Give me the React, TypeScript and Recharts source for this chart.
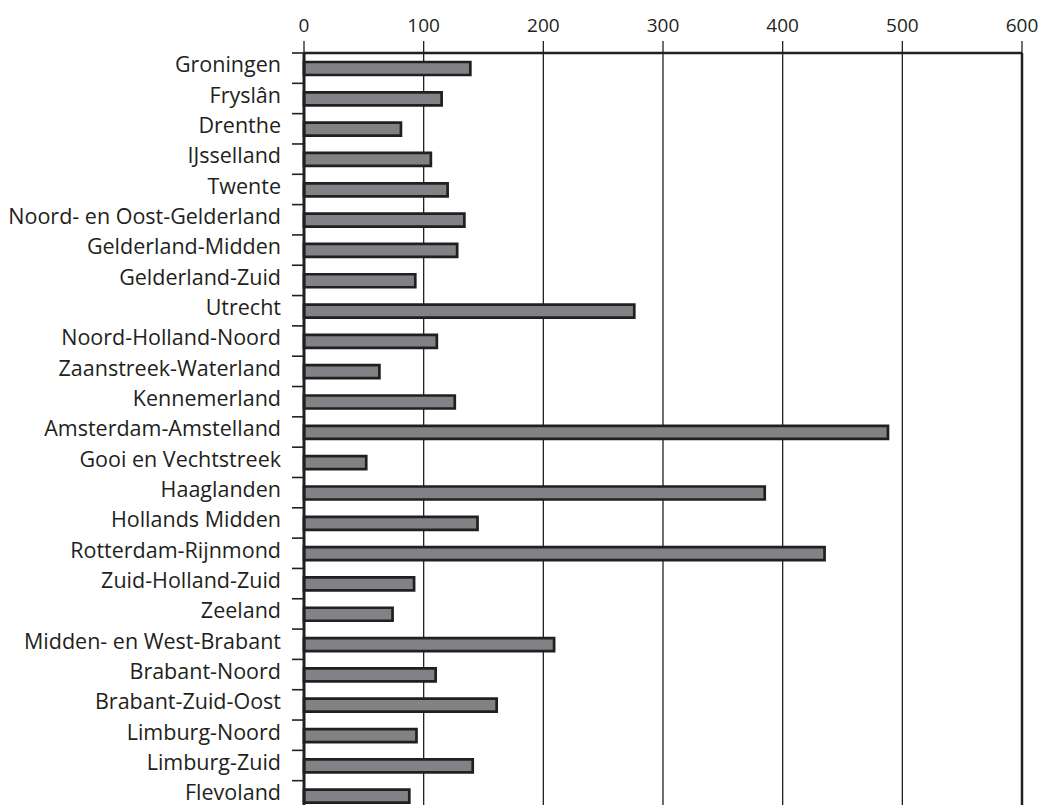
import React from 'react';
import { BarChart, Bar, XAxis, YAxis, CartesianGrid, ReferenceLine } from 'recharts';

const regions = [
  'Groningen', 'Fryslân', 'Drenthe', 'IJsselland', 'Twente', 'Noord- en Oost-Gelderland',
  'Gelderland-Midden', 'Gelderland-Zuid', 'Utrecht', 'Noord-Holland-Noord', 'Zaanstreek-Waterland',
  'Kennemerland', 'Amsterdam-Amstelland', 'Gooi en Vechtstreek', 'Haaglanden', 'Hollands Midden',
  'Rotterdam-Rijnmond', 'Zuid-Holland-Zuid', 'Zeeland', 'Midden- en West-Brabant', 'Brabant-Noord',
  'Brabant-Zuid-Oost', 'Limburg-Noord', 'Limburg-Zuid', 'Flevoland',
];
const counts = [
  139, 115, 81, 106, 120, 134, 128, 93, 276, 111, 63, 126, 488, 52, 385, 145, 435, 92, 74, 209, 110,
  161, 94, 141, 88,
];
const xTicks = [0, 100, 200, 300, 400, 500, 600];

const data = regions.map((region, i) => ({ region, value: counts[i] }));

const INK = '#231f20';
const FONT = '"Open Sans", sans-serif';
const WIDTH = 1040;
const HEIGHT = 812;
const TOP = 53;
const BOTTOM = 1;
const BAND = (HEIGHT - TOP - BOTTOM) / regions.length;

const NumberTick = ({ x, y, payload }: any) => (
  <text x={x} y={y - 9.3} textAnchor="middle" fontFamily={FONT} fontSize={19} fill={INK}>
    {payload.value}
  </text>
);

// tick marks sit between the bars, labels on the bar centre
const RegionTick = ({ x, y, payload }: any) => (
  <g>
    <line x1={x - 12} x2={x} y1={y - BAND / 2} y2={y - BAND / 2} stroke={INK} strokeWidth={1.6} />
    <text x={x - 23} y={y + 4.3} textAnchor="end" fontFamily={FONT} fontSize={21.5} fill={INK}>
      {payload.value}
    </text>
  </g>
);

export default function App() {
  return (
    <div style={{ position: 'fixed', top: 0, left: 0, width: WIDTH, height: 805, overflow: 'hidden', background: '#fff' }}>
      <BarChart
        width={WIDTH}
        height={HEIGHT}
        data={data}
        layout="vertical"
        margin={{ top: 0, right: 18, bottom: BOTTOM, left: 0 }}
      >
        <CartesianGrid horizontal={false} stroke={INK} strokeWidth={1.3} />
        <XAxis
          type="number"
          orientation="top"
          domain={[0, 600]}
          ticks={xTicks}
          height={TOP}
          tickSize={12}
          tickMargin={0}
          axisLine={{ stroke: INK, strokeWidth: 2.5 }}
          tickLine={{ stroke: INK, strokeWidth: 1.3 }}
          tick={<NumberTick />}
        />
        <YAxis
          type="category"
          dataKey="region"
          width={304}
          interval={0}
          tickSize={0}
          tickMargin={0}
          axisLine={{ stroke: INK, strokeWidth: 3 }}
          tickLine={false}
          tick={<RegionTick />}
        />
        <ReferenceLine x={600} stroke={INK} strokeWidth={2.5} />
        <Bar dataKey="value" fill="#808285" stroke={INK} strokeWidth={2.7} barSize={13} isAnimationActive={false} />
      </BarChart>
    </div>
  );
}
